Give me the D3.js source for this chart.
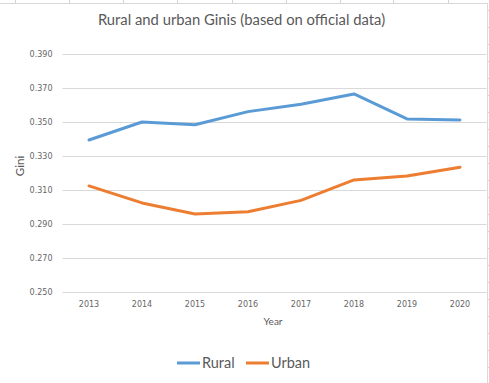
<!DOCTYPE html>
<html><head><meta charset="utf-8">
<script src="https://cdn.jsdelivr.net/npm/d3@7"></script>
<style>
html,body{margin:0;padding:0;background:#fff;}
svg{display:block;}
</style></head>
<body>
<svg id="c" width="489" height="383"></svg>
<script>
const years = ["2013","2014","2015","2016","2017","2018","2019","2020"];
const rural = [0.3394, 0.3500, 0.3484, 0.3561, 0.3604, 0.3665, 0.3518, 0.3512];
const urban = [0.3124, 0.3024, 0.2959, 0.2972, 0.3039, 0.3159, 0.3182, 0.3234];
const yTicks = [0.250, 0.270, 0.290, 0.310, 0.330, 0.350, 0.370, 0.390];
const seriesNames = ["Rural", "Urban"];
const colors = ["#5B9BD5", "#ED7D31"];

const svg = d3.select("#c");
const W = 489, H = 383;
const m = {left: 62.5, right: 2.5, top: 54, bottom: 91};

// spreadsheet background decorations
const deco = svg.append("g");
[15,69,123,177,232,286,340,393,448].forEach(x=>{
  deco.append("line").attr("x1",x+0.5).attr("x2",x+0.5).attr("y1",0).attr("y2",3).attr("stroke","#d4d4d4");
});
deco.append("line").attr("x1",0).attr("x2",488).attr("y1",3.5).attr("y2",3.5).attr("stroke","#d9d9d9");
deco.append("line").attr("x1",487.5).attr("x2",487.5).attr("y1",3).attr("y2",H).attr("stroke","#d9d9d9");
for(let y=10;y<H;y+=17){
  deco.append("line").attr("x1",488).attr("x2",489).attr("y1",y+0.5).attr("y2",y+0.5).attr("stroke","#d4d4d4");
}

const x = d3.scaleBand().domain(years).range([m.left, W - m.right]);
const y = d3.scaleLinear().domain([0.250, 0.390]).range([H - m.bottom, m.top]);

// gridlines
svg.append("g").selectAll("line").data(yTicks).join("line")
  .attr("x1", m.left).attr("x2", W - m.right)
  .attr("y1", d => Math.round(y(d)) + 0.5).attr("y2", d => Math.round(y(d)) + 0.5)
  .attr("stroke", "#d9d9d9").attr("stroke-width", 1);

const tickFont = "'DejaVu Sans', sans-serif";
// y axis labels
const yAxis = d3.axisLeft(y).tickValues(yTicks).tickFormat(d3.format(".3f")).tickSize(0).tickPadding(10);
const gy = svg.append("g").attr("transform", `translate(${m.left},0)`).call(yAxis);
gy.select(".domain").remove();
gy.selectAll("text").attr("fill","#666").style("font-family", tickFont).style("font-size","8px");

// x axis
const xAxis = d3.axisBottom(x).tickSize(0).tickPadding(9);
const gx = svg.append("g").attr("transform", `translate(0,${H - m.bottom})`).call(xAxis);
gx.select(".domain").remove();
gx.selectAll("text").attr("fill","#666").style("font-family", tickFont).style("font-size","8px");

// lines
const line = d3.line().x((d,i) => x(years[i]) + x.bandwidth()/2).y(d => y(d));
[rural, urban].forEach((s, k) => {
  svg.append("path").datum(s).attr("d", line).attr("fill","none")
    .attr("stroke", colors[k]).attr("stroke-width", 3)
    .attr("stroke-linejoin","round").attr("stroke-linecap","round");
});

const mainFont = "Lato, 'Open Sans', sans-serif";
// title
svg.append("text").attr("x", 241.5).attr("y", 25).attr("text-anchor","middle")
  .attr("fill","#595959").style("font-family", mainFont).style("font-size","14.8px")
  .text("Rural and urban Ginis (based on official data)");
// axis titles
svg.append("text").attr("x", 273).attr("y", 325).attr("text-anchor","middle")
  .attr("fill","#595959").style("font-family", mainFont).style("font-size","10px").text("Year");
svg.append("text").attr("transform","translate(23.5,166) rotate(-90)").attr("text-anchor","middle")
  .attr("fill","#595959").style("font-family", mainFont).style("font-size","11.5px").text("Gini");

// legend
const legX = [177, 246];
seriesNames.forEach((n, k) => {
  svg.append("line").attr("x1", legX[k]).attr("x2", legX[k] + 23).attr("y1", 363).attr("y2", 363)
    .attr("stroke", colors[k]).attr("stroke-width", 3);
  svg.append("text").attr("x", legX[k] + 25).attr("y", 368).attr("fill","#595959")
    .style("font-family", mainFont).style("font-size","14.5px").text(n);
});
</script>
</body></html>
